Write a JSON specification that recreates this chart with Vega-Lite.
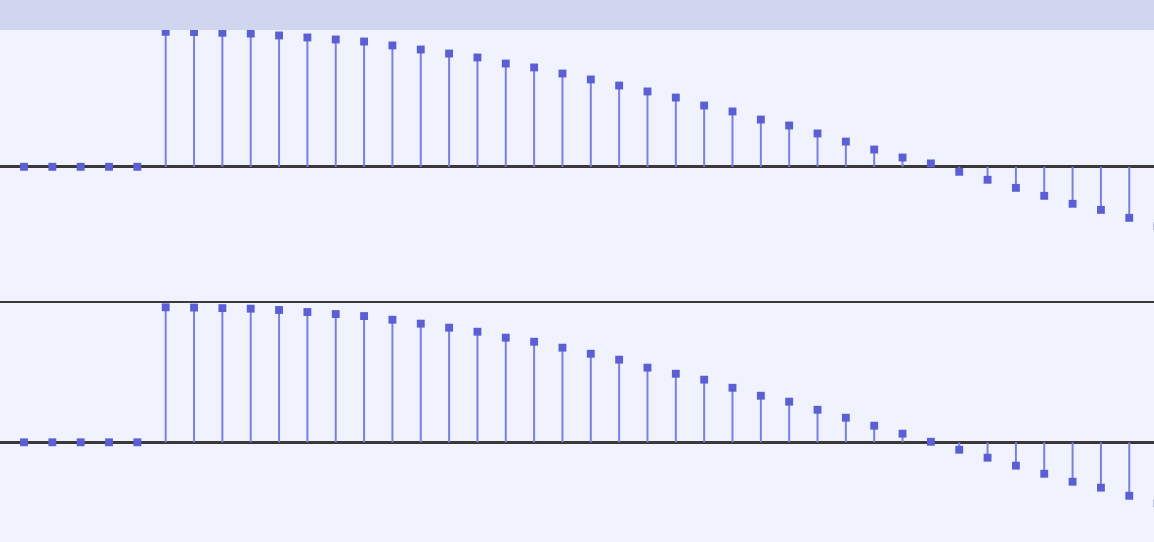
{
  "$schema": "https://vega.github.io/schema/vega-lite/v6.json",
  "width": 1154,
  "height": 542,
  "autosize": "none",
  "padding": 0,
  "background": "#f0f3fd",
  "config": {"view": {"stroke": null}},
  "data": {
    "values": [
      {"n": 0, "top": 0, "bottom": 0},
      {"n": 1, "top": 0, "bottom": 0},
      {"n": 2, "top": 0, "bottom": 0},
      {"n": 3, "top": 0, "bottom": 0},
      {"n": 4, "top": 0, "bottom": 0},
      {"n": 5, "top": 1.0, "bottom": 1.0},
      {"n": 6, "top": 0.998, "bottom": 0.998},
      {"n": 7, "top": 0.993, "bottom": 0.994},
      {"n": 8, "top": 0.987, "bottom": 0.99},
      {"n": 9, "top": 0.973, "bottom": 0.98},
      {"n": 10, "top": 0.958, "bottom": 0.965},
      {"n": 11, "top": 0.943, "bottom": 0.95},
      {"n": 12, "top": 0.928, "bottom": 0.935},
      {"n": 13, "top": 0.899, "bottom": 0.908},
      {"n": 14, "top": 0.869, "bottom": 0.879},
      {"n": 15, "top": 0.839, "bottom": 0.849},
      {"n": 16, "top": 0.81, "bottom": 0.819},
      {"n": 17, "top": 0.765, "bottom": 0.775},
      {"n": 18, "top": 0.736, "bottom": 0.745},
      {"n": 19, "top": 0.691, "bottom": 0.701},
      {"n": 20, "top": 0.647, "bottom": 0.656},
      {"n": 21, "top": 0.602, "bottom": 0.612},
      {"n": 22, "top": 0.558, "bottom": 0.553},
      {"n": 23, "top": 0.513, "bottom": 0.508},
      {"n": 24, "top": 0.454, "bottom": 0.464},
      {"n": 25, "top": 0.41, "bottom": 0.404},
      {"n": 26, "top": 0.35, "bottom": 0.345},
      {"n": 27, "top": 0.306, "bottom": 0.301},
      {"n": 28, "top": 0.247, "bottom": 0.241},
      {"n": 29, "top": 0.187, "bottom": 0.182},
      {"n": 30, "top": 0.128, "bottom": 0.123},
      {"n": 31, "top": 0.069, "bottom": 0.064},
      {"n": 32, "top": 0.025, "bottom": 0.004},
      {"n": 33, "top": -0.037, "bottom": -0.055},
      {"n": 34, "top": -0.096, "bottom": -0.114},
      {"n": 35, "top": -0.156, "bottom": -0.173},
      {"n": 36, "top": -0.215, "bottom": -0.233},
      {"n": 37, "top": -0.274, "bottom": -0.292},
      {"n": 38, "top": -0.319, "bottom": -0.336},
      {"n": 39, "top": -0.378, "bottom": -0.396},
      {"n": 40, "top": -0.44, "bottom": -0.452}
    ]
  },
  "encoding": {
    "x": {
      "field": "n",
      "type": "quantitative",
      "scale": {"domain": [-0.8469, 39.873], "nice": false, "zero": false},
      "axis": null
    }
  },
  "layer": [
    {
      "encoding": {
        "y": {
          "field": "top",
          "type": "quantitative",
          "scale": {"domain": [-2.7793, 1.2356], "nice": false, "zero": false},
          "axis": null
        }
      },
      "layer": [
        {
          "mark": {"type": "rule", "color": "#3a3a3a", "strokeWidth": 2},
          "encoding": {
            "x": {"datum": -0.8469},
            "x2": {"datum": 39.873},
            "y": {"datum": 0}
          }
        },
        {
          "mark": {"type": "rule", "color": "#7b80df", "strokeWidth": 2},
          "encoding": {"y2": {"datum": 0}}
        },
        {
          "mark": {"type": "square", "size": 62, "color": "#5b5fd3", "opacity": 1}
        },
        {
          "mark": {"type": "rect", "color": "#d0d5f0"},
          "encoding": {
            "x": {"datum": -0.8469},
            "x2": {"datum": 39.873},
            "y": {"datum": 1.0134},
            "y2": {"datum": 1.2356}
          }
        }
      ]
    },
    {
      "encoding": {
        "y": {
          "field": "bottom",
          "type": "quantitative",
          "scale": {"domain": [-0.7385, 3.2763], "nice": false, "zero": false},
          "axis": null
        }
      },
      "layer": [
        {
          "mark": {"type": "rule", "color": "#3a3a3a", "strokeWidth": 2},
          "encoding": {
            "x": {"datum": -0.8469},
            "x2": {"datum": 39.873},
            "y": {"datum": 0}
          }
        },
        {
          "mark": {"type": "rule", "color": "#3a3a3a", "strokeWidth": 2},
          "encoding": {
            "x": {"datum": -0.8469},
            "x2": {"datum": 39.873},
            "y": {"datum": 1.0393}
          }
        },
        {
          "mark": {"type": "rule", "color": "#7b80df", "strokeWidth": 2},
          "encoding": {"y2": {"datum": 0}}
        },
        {
          "mark": {"type": "square", "size": 62, "color": "#5b5fd3", "opacity": 1}
        }
      ]
    }
  ],
  "resolve": {"scale": {"y": "independent"}}
}
